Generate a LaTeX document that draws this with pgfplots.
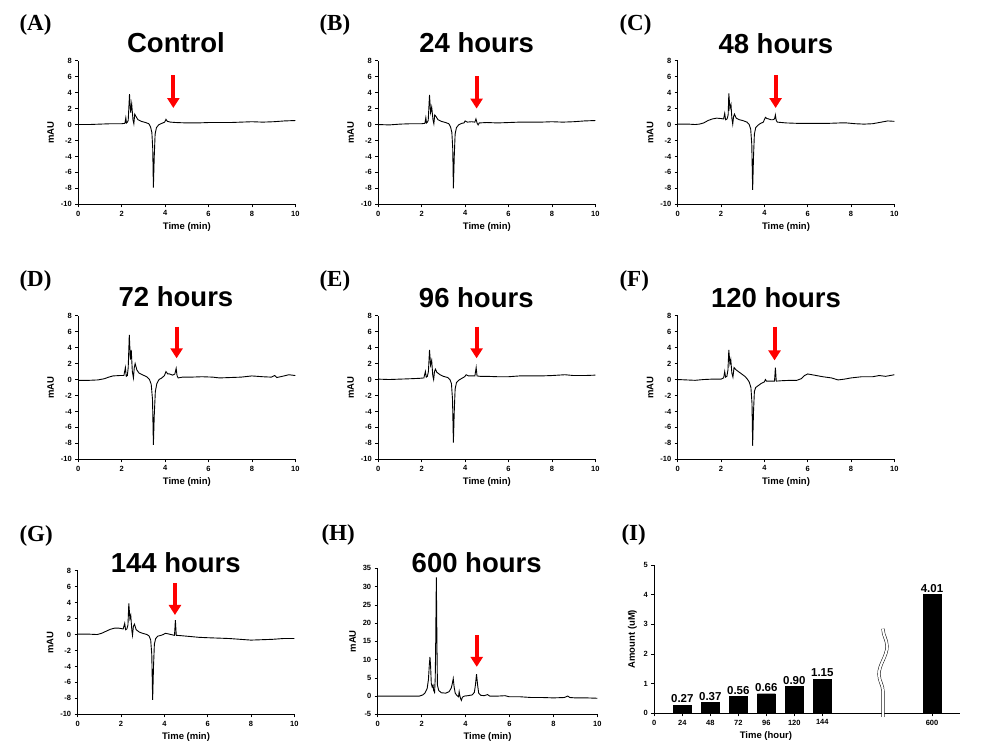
\documentclass[border=0pt]{standalone}
\usepackage{pgfplots}
\pgfplotsset{compat=1.18}
\usepackage{pgfplotstable}
\usepackage{fontspec}
\setmainfont{Liberation Sans}
\newfontfamily\serifbold{Liberation Serif}
\usetikzlibrary{arrows.meta,decorations.pathmorphing}

\pgfplotsset{
 base/.style={
  scale only axis, anchor=south west,
  axis x line*=bottom, axis y line*=left,
  axis line style={-, line width=0.8pt},
  tick align=outside, major tick length=3pt,
  tick style={black, line width=0.6pt},
  /pgf/number format/assume math mode=true,
  tick label style={font=\fontsize{7.5}{8}\selectfont\bfseries},
  label style={font=\fontsize{9.5}{10}\selectfont\bfseries},
  enlargelimits=false,
 },
 chrom/.style={
  base, width=217pt, height=143.6pt,
  xmin=0, xmax=10, ymin=-10, ymax=8,
  xtick={0,2,...,10}, ytick={-10,-8,...,8},
  xlabel={Time (min)}, ylabel={mAU},
  every axis plot post/.append style={black, line width=0.9pt, mark=none},
 },
}
\tikzset{ttl/.style={anchor=base, font=\fontsize{27.5}{29}\selectfont\bfseries},
 plab/.style={anchor=base west, font=\fontsize{23}{24}\selectfont\serifbold\bfseries},
 redarrow/.style={red, line width=4pt, -{Triangle[length=10pt,width=12pt]}}}

\pgfplotstableread{
x y lab
24 0.27 0.27
48 0.37 0.37
72 0.56 0.56
96 0.66 0.66
120 0.90 0.90
144 1.15 1.15
238 4.01 4.01
}\amount

\begin{document}
\begin{tikzpicture}
\useasboundingbox (0,0) rectangle (990pt,-754pt);

% (A) Control
\begin{axis}[chrom, at={(78.3pt,-204.3pt)}]
\addplot coordinates {(0,0) (0.5,0.0) (1,0.05) (1.5,0.1) (2.0,0.1) (2.15,0.15) (2.19,0.85) (2.22,0.2) (2.26,0.3) (2.3,0.5) (2.36,3.8) (2.41,1.5) (2.46,2.6) (2.52,0.6) (2.56,0.1) (2.6,1.3) (2.66,1.0) (2.75,0.6) (2.9,0.4) (3.1,0.25) (3.25,0.1) (3.33,-0.3) (3.39,-1.0) (3.43,-3) (3.46,-7.9) (3.5,-4) (3.54,-1.2) (3.6,-0.4) (3.7,-0.05) (3.85,0.15) (3.98,0.3) (4.04,0.65) (4.1,0.4) (4.25,0.3) (4.5,0.25) (5,0.2) (5.5,0.2) (6,0.25) (6.5,0.25) (7,0.25) (7.5,0.3) (8,0.35) (8.5,0.3) (9,0.35) (9.5,0.45) (10,0.5)};
\draw[redarrow] (axis cs:4.38,6.2) -- (axis cs:4.38,2.07);
\end{axis}

% (B) 24 hours
\begin{axis}[chrom, at={(378.3pt,-204.3pt)}]
\addplot coordinates {(0,0) (0.5,-0.05) (1,0.05) (1.5,0.1) (2.0,0.1) (2.15,0.15) (2.19,0.85) (2.22,0.2) (2.26,0.3) (2.3,0.5) (2.36,3.7) (2.41,1.5) (2.46,2.2) (2.52,0.6) (2.56,0.1) (2.6,1.2) (2.66,1.0) (2.75,0.6) (2.9,0.4) (3.1,0.25) (3.25,0.1) (3.33,-0.3) (3.39,-1.0) (3.43,-3) (3.46,-8.0) (3.5,-4) (3.54,-1.2) (3.6,-0.4) (3.7,-0.05) (3.85,0.15) (3.95,0.2) (4.0,0.45) (4.1,0.3) (4.3,0.35) (4.45,0.3) (4.5,0.7) (4.55,0.2) (4.6,-0.05) (4.65,0.2) (5,0.25) (5.5,0.2) (6,0.25) (6.5,0.3) (7,0.3) (7.5,0.3) (8,0.35) (8.5,0.3) (9,0.35) (9.5,0.45) (10,0.5)};
\draw[redarrow] (axis cs:4.53,6.08) -- (axis cs:4.53,2.0);
\end{axis}

% (C) 48 hours
\begin{axis}[chrom, at={(677.7pt,-204.3pt)}, width=216.6pt]
\addplot coordinates {(0,0.05) (0.5,0.05) (0.8,0.0) (1.0,0.05) (1.2,0.2) (1.4,0.5) (1.6,0.7) (1.8,0.8) (2.0,0.75) (2.12,0.7) (2.17,1.4) (2.21,0.6) (2.28,0.7) (2.33,1.2) (2.36,3.9) (2.41,2.0) (2.46,2.5) (2.5,0.8) (2.54,0.05) (2.58,1.0) (2.62,1.3) (2.7,0.8) (2.85,0.6) (3.0,0.5) (3.2,0.3) (3.3,0.0) (3.37,-0.6) (3.42,-2.5) (3.46,-8.2) (3.5,-4) (3.54,-1.2) (3.6,-0.4) (3.7,-0.1) (3.8,0.1) (3.95,0.3) (4.05,0.9) (4.12,0.75) (4.2,0.7) (4.3,0.6) (4.4,0.6) (4.47,0.7) (4.51,1.2) (4.55,0.5) (4.6,0.3) (4.8,0.25) (5.0,0.2) (5.5,0.15) (6,0.15) (6.5,0.15) (7,0.15) (7.5,0.2) (7.8,0.2) (8.2,0.1) (8.6,0.05) (9.0,0.1) (9.4,0.3) (9.7,0.45) (10,0.4)};
\draw[redarrow] (axis cs:4.52,6.2) -- (axis cs:4.52,2.07);
\end{axis}

% (D) 72 hours
\begin{axis}[chrom, at={(78.3pt,-459.3pt)}]
\addplot coordinates {(0,-0.1) (0.5,-0.1) (0.9,-0.05) (1.2,0.1) (1.4,0.3) (1.6,0.45) (1.9,0.5) (2.1,0.5) (2.17,1.5) (2.21,0.4) (2.26,0.5) (2.3,1.5) (2.35,5.6) (2.4,2.5) (2.44,3.7) (2.49,1.0) (2.54,0.2) (2.58,1.5) (2.62,2.0) (2.7,1.2) (2.8,0.8) (2.95,0.6) (3.15,0.35) (3.28,0.0) (3.36,-0.6) (3.42,-2.5) (3.46,-8.2) (3.5,-4.5) (3.55,-1.5) (3.62,-0.5) (3.72,0.0) (3.85,0.2) (3.97,0.5) (4.04,1.0) (4.12,0.7) (4.2,0.7) (4.35,0.55) (4.45,0.7) (4.51,1.4) (4.55,0.5) (4.6,0.2) (4.8,0.3) (5.2,0.3) (5.7,0.35) (6.2,0.3) (6.5,0.2) (7,0.25) (7.5,0.3) (8,0.45) (8.5,0.35) (8.9,0.3) (9.05,0.5) (9.15,0.25) (9.4,0.4) (9.7,0.6) (10,0.5)};
\draw[redarrow] (axis cs:4.53,6.62) -- (axis cs:4.53,2.66);
\end{axis}

% (E) 96 hours
\begin{axis}[chrom, at={(378.3pt,-459.3pt)}]
\addplot coordinates {(0,0.05) (0.5,0.0) (1.0,0.05) (1.5,0.1) (1.9,0.15) (2.1,0.2) (2.17,1.0) (2.21,0.3) (2.26,0.4) (2.31,1.0) (2.36,3.7) (2.41,1.8) (2.46,2.4) (2.51,0.5) (2.55,0.0) (2.59,1.0) (2.63,1.3) (2.7,0.9) (2.85,0.6) (3.0,0.4) (3.2,0.25) (3.3,0.0) (3.37,-0.5) (3.42,-2.5) (3.46,-7.9) (3.5,-4) (3.54,-1.2) (3.6,-0.4) (3.7,-0.1) (3.85,0.15) (3.98,0.35) (4.05,0.6) (4.15,0.45) (4.3,0.45) (4.45,0.45) (4.51,1.5) (4.55,0.45) (4.7,0.4) (5.0,0.4) (5.5,0.35) (6.0,0.35) (6.5,0.45) (7.0,0.45) (7.5,0.45) (8.0,0.5) (8.6,0.6) (9.0,0.5) (9.5,0.5) (10,0.55)};
\draw[redarrow] (axis cs:4.53,6.62) -- (axis cs:4.53,2.66);
\end{axis}

% (F) 120 hours
\begin{axis}[chrom, at={(677.7pt,-459.3pt)}, width=216.6pt]
\addplot coordinates {(0,0.0) (0.4,-0.05) (0.8,-0.1) (1.2,0.0) (1.6,0.05) (2.0,0.05) (2.12,0.2) (2.17,1.0) (2.21,0.3) (2.27,0.4) (2.32,1.2) (2.36,3.7) (2.41,2.0) (2.45,2.5) (2.5,0.8) (2.55,0.3) (2.6,1.5) (2.7,1.2) (2.85,0.9) (3.0,0.6) (3.1,0.4) (3.2,0.1) (3.3,-0.3) (3.38,-1.0) (3.43,-3.0) (3.46,-8.3) (3.5,-4) (3.54,-1.5) (3.6,-1.0) (3.7,-0.8) (3.85,-0.5) (4.0,-0.3) (4.05,0.0) (4.1,-0.2) (4.3,-0.2) (4.47,-0.2) (4.51,1.5) (4.55,-0.2) (4.8,-0.15) (5.2,-0.1) (5.5,-0.1) (5.7,0.1) (5.85,0.5) (6.0,0.7) (6.3,0.55) (6.7,0.35) (7.1,0.2) (7.4,-0.05) (7.7,0.05) (8.0,0.2) (8.5,0.35) (9.0,0.35) (9.3,0.5) (9.6,0.4) (10,0.6)};
\draw[redarrow] (axis cs:4.47,6.62) -- (axis cs:4.47,2.4);
\end{axis}

% (G) 144 hours
\begin{axis}[chrom, at={(77.7pt,-714.3pt)}, width=216.6pt]
\addplot coordinates {(0,0.05) (0.5,0.05) (0.9,0.0) (1.1,0.15) (1.3,0.4) (1.5,0.65) (1.7,0.8) (1.9,0.8) (2.1,0.7) (2.17,1.4) (2.21,0.6) (2.27,0.7) (2.32,1.2) (2.36,3.9) (2.41,2.0) (2.45,2.4) (2.5,0.5) (2.53,-0.1) (2.57,1.0) (2.62,1.3) (2.7,0.6) (2.85,0.3) (3.0,0.15) (3.2,0.0) (3.3,-0.2) (3.37,-0.7) (3.42,-2.5) (3.46,-8.2) (3.5,-4) (3.54,-1.2) (3.6,-0.5) (3.7,-0.2) (3.85,-0.1) (3.95,0.0) (4.05,0.15) (4.15,0.1) (4.3,0.0) (4.47,-0.1) (4.51,1.8) (4.55,-0.1) (4.8,-0.15) (5.2,-0.25) (5.6,-0.35) (6.0,-0.4) (6.5,-0.45) (7.0,-0.5) (7.5,-0.6) (8.0,-0.7) (8.5,-0.65) (9.0,-0.6) (9.5,-0.5) (10,-0.5)};
\draw[redarrow] (axis cs:4.49,6.42) -- (axis cs:4.49,2.45);
\end{axis}

% (H) 600 hours
\begin{axis}[chrom, at={(377.7pt,-714.3pt)}, width=219.6pt, height=146pt,
  ymin=-5, ymax=35, ytick={-5,0,...,35}]
\addplot coordinates {(0,0.0) (0.5,0.0) (1.0,0.0) (1.5,0.0) (1.9,0.0) (2.05,0.3) (2.15,0.8) (2.25,2.0) (2.31,4.5) (2.35,8.5) (2.38,10.7) (2.41,8) (2.44,3.5) (2.48,2.5) (2.52,3.0) (2.55,1.5) (2.59,1.0) (2.62,5) (2.64,14) (2.67,32.5) (2.7,13) (2.72,3) (2.78,1.5) (2.9,0.9) (3.1,0.8) (3.25,1.2) (3.35,2.2) (3.4,3.5) (3.44,4.8) (3.48,2.5) (3.53,0.8) (3.6,0.2) (3.68,-0.2) (3.71,1.2) (3.74,0.1) (3.78,-0.8) (3.81,-1.2) (3.86,-0.3) (3.95,0.0) (4.1,0.1) (4.3,0.3) (4.4,1.0) (4.45,3.0) (4.5,6.0) (4.55,3) (4.6,0.8) (4.7,0.2) (4.85,0.1) (5.0,0.4) (5.1,0.0) (5.5,0.0) (5.8,0.1) (6.0,-0.2) (6.5,-0.2) (7.0,-0.4) (7.5,-0.4) (8.0,-0.5) (8.5,-0.4) (8.65,0.0) (8.75,-0.4) (9.0,-0.5) (9.5,-0.5) (10,-0.6)};
\draw[redarrow] (axis cs:4.51,16.7) -- (axis cs:4.51,8.0);
\end{axis}

% (I) amount bars
\begin{axis}[base, at={(654.3pt,-713.3pt)}, width=305.7pt, height=148.3pt,
  xmin=0, xmax=262, ymin=0, ymax=5,
  xtick={0,24,48,72,96,120,144,238}, xticklabels={0,24,48,72,96,120,144,600},
  ytick={0,1,...,5},
  xlabel={Time (hour)}, ylabel={Amount (uM)},
  xlabel style={at={(ticklabel cs:0.365)}, anchor=north},
  ybar, bar width=15.4, clip=false,
  nodes near coords, point meta=explicit symbolic,
  nodes near coords style={font=\fontsize{11.5}{12}\selectfont\bfseries, anchor=south, inner sep=2pt},
]
\addplot[fill=black, draw=black] table[x=x, y=y, meta=lab] {\amount};
\draw[decorate, decoration={snake, amplitude=4pt, segment length=56pt}, double=white, double distance=2.2pt, line width=0.5pt, black] (axis cs:196,2.85) -- (axis cs:196,-0.12);
\end{axis}

% titles
\node[ttl] at (176pt,-53pt) {Control};
\node[ttl] at (476.7pt,-53pt) {24 hours};
\node[ttl] at (775.8pt,-53.5pt) {48 hours};
\node[ttl] at (176pt,-306.7pt) {72 hours};
\node[ttl] at (476.3pt,-307pt) {96 hours};
\node[ttl] at (776pt,-307pt) {120 hours};
\node[ttl] at (175.8pt,-572.7pt) {144 hours};
\node[ttl] at (476.7pt,-572.7pt) {600 hours};

% panel labels
\node[plab] at (16pt,-31pt) {(A)};
\node[plab] at (316pt,-31pt) {(B)};
\node[plab] at (616pt,-31pt) {(C)};
\node[plab] at (16pt,-286.7pt) {(D)};
\node[plab] at (316pt,-286.7pt) {(E)};
\node[plab] at (616pt,-286.7pt) {(F)};
\node[plab] at (16pt,-541.7pt) {(G)};
\node[plab] at (318pt,-540pt) {(H)};
\node[plab] at (618pt,-540pt) {(I)};
\end{tikzpicture}
\end{document}
